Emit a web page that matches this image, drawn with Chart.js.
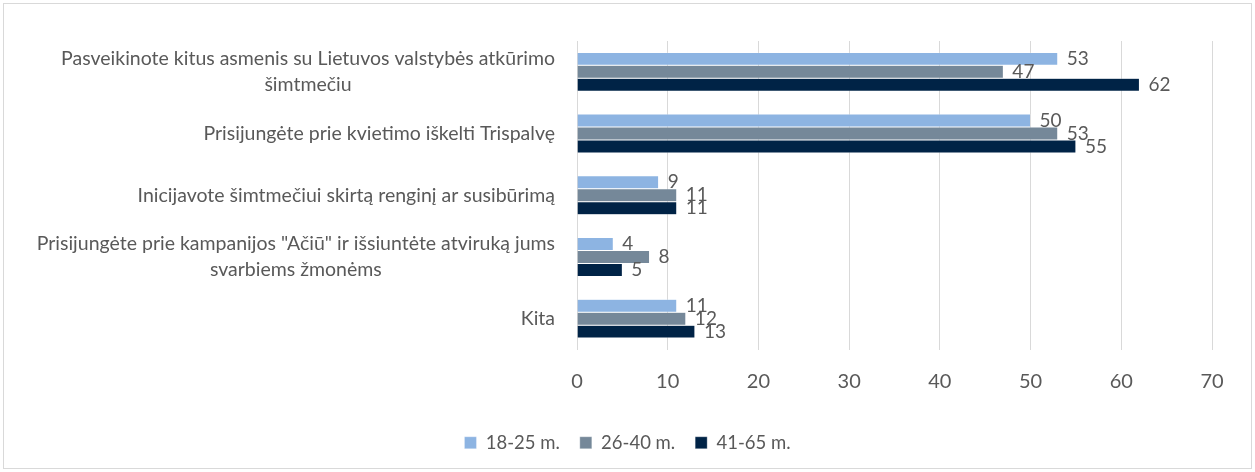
<!DOCTYPE html>
<html>
<head>
<meta charset="utf-8">
<script src="https://cdn.jsdelivr.net/npm/chart.js@4"></script>
<style>
  body { margin: 0; background: #fff; }
  #wrap { position: relative; width: 1255px; height: 472px; }
</style>
</head>
<body>
<div id="wrap"><canvas id="chart" width="1255" height="472"></canvas></div>
<script>
// Duomenys
const categories = [
  ["Pasveikinote kitus asmenis su Lietuvos valstybės atkūrimo", "šimtmečiu"],
  ["Prisijungėte prie kvietimo iškelti Trispalvę"],
  ["Inicijavote šimtmečiui skirtą renginį ar susibūrimą"],
  ["Prisijungėte prie kampanijos \"Ačiū\" ir išsiuntėte atviruką jums", "svarbiems žmonėms"],
  ["Kita"],
];
const seriesNames = ["18-25 m.", "26-40 m.", "41-65 m."];
const values1825 = [53, 50, 9, 4, 11];
const values2640 = [47, 53, 11, 8, 12];
const values4165 = [62, 55, 11, 5, 13];
const xTicks = [0, 10, 20, 30, 40, 50, 60, 70];

const colors = ["#8db4e2", "#758899", "#002346"];
const textColor = "#595959";
const fontFamily = "Lato, 'Open Sans', sans-serif";

// Reikšmių etiketės prie stulpelių galų
const valueLabels = {
  id: "valueLabels",
  afterDatasetsDraw(chart) {
    const ctx = chart.ctx;
    ctx.save();
    ctx.font = "19px " + fontFamily;
    ctx.fillStyle = textColor;
    ctx.textAlign = "left";
    ctx.textBaseline = "middle";
    chart.data.datasets.forEach((ds, i) => {
      chart.getDatasetMeta(i).data.forEach((bar, j) => {
        ctx.fillText(ds.data[j], bar.x + 9, bar.y);
      });
    });
    ctx.restore();
  },
};

// Kategorijų pavadinimai (centruotos eilutės, lygiuotos dešinėje)
const categoryLabels = {
  id: "categoryLabels",
  afterDraw(chart) {
    const ctx = chart.ctx;
    const y = chart.scales.y;
    const right = chart.chartArea.left - 22;
    const lineH = 26;
    ctx.save();
    ctx.font = "19.5px " + fontFamily;
    ctx.fillStyle = textColor;
    ctx.textAlign = "center";
    ctx.textBaseline = "middle";
    categories.forEach((lines, i) => {
      const maxW = Math.max(...lines.map((l) => ctx.measureText(l).width));
      const cx = right - maxW / 2;
      const cy = y.getPixelForValue(i);
      const top = cy - ((lines.length - 1) * lineH) / 2;
      lines.forEach((l, k) => ctx.fillText(l, cx, top + k * lineH));
    });
    ctx.restore();
  },
};

// Rėmelis aplink visą diagramą
const outerBorder = {
  id: "outerBorder",
  beforeDraw(chart) {
    const ctx = chart.ctx;
    ctx.save();
    ctx.strokeStyle = "#d9d9d9";
    ctx.lineWidth = 1;
    ctx.strokeRect(3.5, 3.5, chart.width - 7, chart.height - 7);
    ctx.restore();
  },
};

// Legendą centruojame pagal visą drobę
const legendShift = {
  id: "legendShift",
  afterLayout(chart) {
    const lg = chart.legend;
    const shift = (chart.width - (lg.left + lg.right)) / 2;
    lg.left += shift;
    lg.right += shift;
  },
};

const ctx = document.getElementById("chart").getContext("2d");
new Chart(ctx, {
  type: "bar",
  data: {
    labels: categories.map((c) => c.join(" ")),
    datasets: [
      { label: seriesNames[0], data: values1825, backgroundColor: colors[0] },
      { label: seriesNames[1], data: values2640, backgroundColor: colors[1] },
      { label: seriesNames[2], data: values4165, backgroundColor: colors[2] },
    ],
  },
  options: {
    indexAxis: "y",
    responsive: false,
    animation: false,
    layout: { padding: { top: 41, right: 43, left: 7, bottom: 10 } },
    datasets: {
      bar: {
        categoryPercentage: 0.63,
        barPercentage: 1,
        borderColor: "rgba(255,255,255,0.6)",
        borderWidth: 0.5,
      },
    },
    plugins: {
      legend: {
        position: "bottom",
        labels: {
          boxWidth: 12,
          boxHeight: 12,
          padding: 20,
          color: textColor,
          font: { family: fontFamily, size: 18.5 },
        },
      },
      tooltip: { enabled: false },
    },
    scales: {
      x: {
        min: 0,
        max: 70,
        afterBuildTicks: (scale) => {
          scale.ticks = xTicks.map((v) => ({ value: v }));
        },
        afterFit: (scale) => {
          scale.height = 64;
        },
        grid: { color: "#d9d9d9", drawTicks: false },
        border: { display: false },
        ticks: {
          padding: 20,
          color: textColor,
          font: { family: fontFamily, size: 20 },
        },
      },
      y: {
        afterFit: (scale) => {
          scale.width = 570;
        },
        grid: { display: false },
        border: { display: false },
        ticks: { display: false },
      },
    },
  },
  plugins: [outerBorder, legendShift, valueLabels, categoryLabels],
});
</script>
</body>
</html>
